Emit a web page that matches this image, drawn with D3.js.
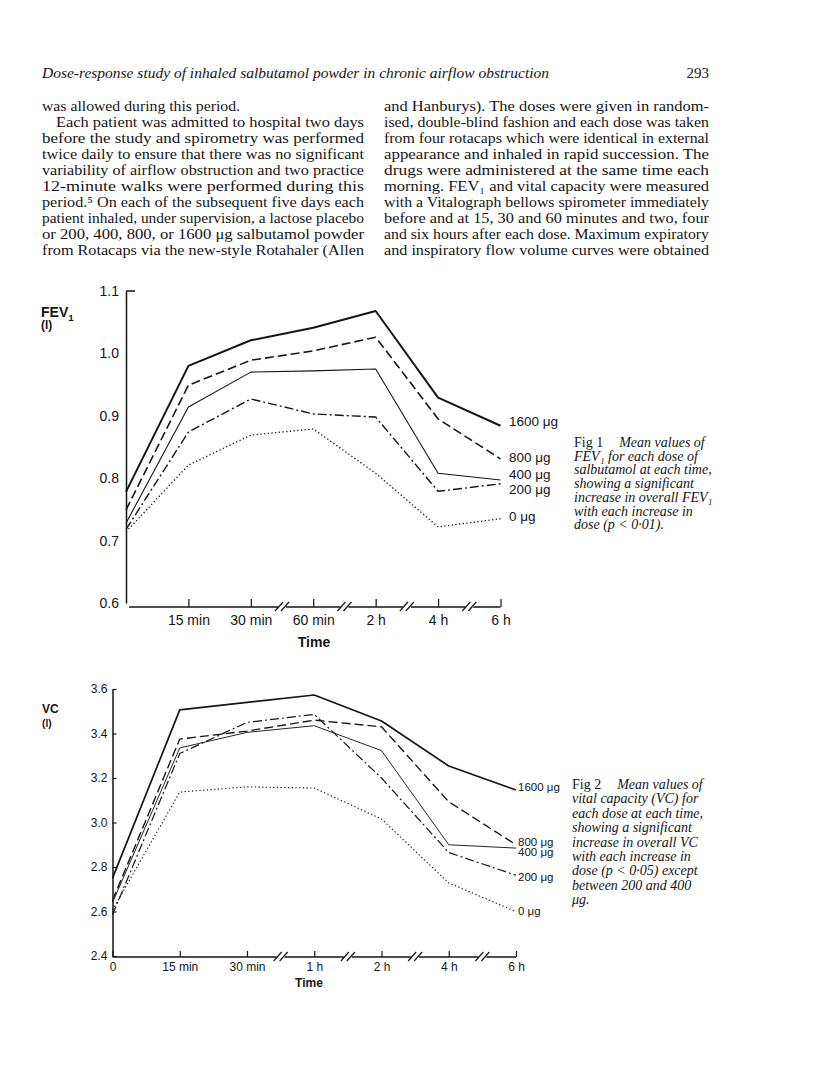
<!DOCTYPE html>
<html><head><meta charset="utf-8">
<script src="https://cdn.jsdelivr.net/npm/d3@7"></script>
<style>
html,body{margin:0;padding:0;background:#fff;}
svg text{fill:#151515;}
</style>
</head><body>
<svg id="page" width="816" height="1084"></svg>
<script>
// ---------- DATA ----------
const headerTitle = "Dose-response study of inhaled salbutamol powder in chronic airflow obstruction";
const pageNumber = "293";
const leftColumn = [
  "was allowed during this period.",
  "Each patient was admitted to hospital two days",
  "before the study and spirometry was performed",
  "twice daily to ensure that there was no significant",
  "variability of airflow obstruction and two practice",
  "12-minute walks were performed during this",
  "period.⁵ On each of the subsequent five days each",
  "patient inhaled, under supervision, a lactose placebo",
  "or 200, 400, 800, or 1600 μg salbutamol powder",
  "from Rotacaps via the new-style Rotahaler (Allen"
];
const rightColumn = [
  "and Hanburys). The doses were given in random-",
  "ised, double-blind fashion and each dose was taken",
  "from four rotacaps which were identical in external",
  "appearance and inhaled in rapid succession. The",
  "drugs were administered at the same time each",
  "morning. FEV₁ and vital capacity were measured",
  "with a Vitalograph bellows spirometer immediately",
  "before and at 15, 30 and 60 minutes and two, four",
  "and six hours after each dose. Maximum expiratory",
  "and inspiratory flow volume curves were obtained"
];

const doseLabels = ["1600 μg", "800 μg", "400 μg", "200 μg", "0 μg"];
const timeLabels1 = ["0", "15 min", "30 min", "60 min", "2 h", "4 h", "6 h"];
const timeLabels2 = ["0", "15 min", "30 min", "1 h", "2 h", "4 h", "6 h"];
const yTicks1 = [0.6, 0.7, 0.8, 0.9, 1.0, 1.1];
const yTicks2 = [2.4, 2.6, 2.8, 3.0, 3.2, 3.4, 3.6];

// FEV1 (l) at each time
const fev1600 = [0.778, 0.980, 1.021, 1.041, 1.068, 0.929, 0.884];
const fev800  = [0.749, 0.949, 0.989, 1.004, 1.026, 0.895, 0.831];
const fev400  = [0.728, 0.914, 0.970, 0.972, 0.975, 0.808, 0.797];
const fev200  = [0.718, 0.874, 0.927, 0.903, 0.898, 0.779, 0.791];
const fev0    = [0.714, 0.821, 0.869, 0.879, 0.808, 0.722, 0.735];

// VC (l) at each time
const vc1600 = [2.75, 3.506, 3.540, 3.573, 3.456, 3.254, 3.146];
const vc800  = [2.65, 3.375, 3.411, 3.460, 3.430, 3.093, 2.900];
const vc400  = [2.64, 3.335, 3.405, 3.435, 3.323, 2.900, 2.885];
const vc200  = [2.585, 3.310, 3.450, 3.486, 3.200, 2.865, 2.763];
const vc0    = [2.607, 3.137, 3.160, 3.155, 3.016, 2.728, 2.600];

const caption1 = [
  "FEV₁ for each dose of",
  "salbutamol at each time,",
  "showing a significant",
  "increase in overall FEV₁",
  "with each increase in",
  "dose (p < 0·01)."
];
const caption2 = [
  "vital capacity (VC) for",
  "each dose at each time,",
  "showing a significant",
  "increase in overall VC",
  "with each increase in",
  "dose (p < 0·05) except",
  "between 200 and 400",
  "μg."
];

// ---------- STYLES ----------
const lineStyles = [
  {w: 2.0, dash: null},
  {w: 1.6, dash: "9,4"},
  {w: 1.1, dash: null},
  {w: 1.4, dash: "9,3,2,3"},
  {w: 1.3, dash: "1.3,2.4"}
];
const serif = "'Liberation Serif','Times New Roman',serif";
const sans = "'Liberation Sans',Arial,Helvetica,sans-serif";

const svg = d3.select("#page");

// ---------- HEADER & BODY TEXT ----------
svg.append("text").attr("x", 42).attr("y", 78)
  .attr("font-family", serif).attr("font-style", "italic").attr("font-size", 15)
  .attr("textLength", 507).attr("lengthAdjust", "spacingAndGlyphs").text(headerTitle);
svg.append("text").attr("x", 709).attr("y", 78).attr("text-anchor", "end")
  .attr("font-family", serif).attr("font-size", 15).text(pageNumber);

function column(lines, x0, width, isLeft) {
  lines.forEach((t, i) => {
    const indent = (isLeft && i === 1) ? 14 : 0;
    const el = svg.append("text").attr("x", x0 + indent).attr("y", 111 + 16 * i)
      .attr("font-family", serif).attr("font-size", 14.5).text(t);
    const len = (isLeft && i === 0) ? 198 : width - indent;
    el.attr("textLength", len).attr("lengthAdjust", "spacingAndGlyphs");
  });
}
column(leftColumn, 42, 322, true);
column(rightColumn, 384, 325, false);

// ---------- CHART HELPER ----------
function drawChart(cfg) {
  const g = svg.append("g");
  const x = d3.scaleLinear().domain([0, 6]).range([cfg.x0, cfg.x1]);
  const y = d3.scaleLinear().domain(cfg.yDomain).range([cfg.yBottom, cfg.yTop]);

  // y axis
  const yAx = d3.axisLeft(y).tickValues(cfg.yTicks)
    .tickSizeInner(cfg.yTickIn).tickSizeOuter(0).tickPadding(cfg.yPad)
    .tickFormat(d3.format(".1f"));
  const ya = g.append("g").attr("transform", `translate(${cfg.x0},0)`).call(yAx);
  ya.select(".domain").attr("stroke", "#151515").attr("stroke-width", 1.5);
  ya.selectAll(".tick line").attr("stroke", "#151515").attr("stroke-width", 1.2);
  ya.selectAll("text").attr("font-family", sans).attr("font-size", cfg.fs).attr("fill", "#151515");
  if (cfg.topCap) {
    g.append("line").attr("x1", cfg.x0).attr("x2", cfg.x0 + 9)
      .attr("y1", y(cfg.yDomain[1])).attr("y2", y(cfg.yDomain[1]))
      .attr("stroke", "#151515").attr("stroke-width", 1.5);
  }

  // x axis
  const xAx = d3.axisBottom(x).tickValues(cfg.xTickVals)
    .tickSizeInner(-cfg.xTickLen).tickSizeOuter(0).tickPadding(cfg.xPad)
    .tickFormat(i => cfg.timeLabels[i]);
  const xa = g.append("g").attr("transform", `translate(0,${cfg.base})`).call(xAx);
  xa.select(".domain").remove();
  xa.selectAll(".tick line").attr("stroke", "#151515").attr("stroke-width", 1.2);
  xa.selectAll("text").attr("font-family", sans).attr("font-size", cfg.fs).attr("fill", "#151515");

  // segmented baseline with breaks
  const breaks = [2.5, 3.5, 4.5, 5.5];
  let start = cfg.baseStart;
  breaks.forEach(b => {
    const bx = x(b);
    g.append("line").attr("x1", start).attr("x2", bx - 4).attr("y1", cfg.base).attr("y2", cfg.base)
      .attr("stroke", "#151515").attr("stroke-width", 1.5);
    [-4, 2].forEach(o => {
      g.append("line").attr("x1", bx + o - 3).attr("y1", cfg.base + 4)
        .attr("x2", bx + o + 5).attr("y2", cfg.base - 5)
        .attr("stroke", "#151515").attr("stroke-width", 1.2);
    });
    start = bx + 4;
  });
  g.append("line").attr("x1", start).attr("x2", x(6)).attr("y1", cfg.base).attr("y2", cfg.base)
    .attr("stroke", "#151515").attr("stroke-width", 1.5);

  // x title
  g.append("text").attr("x", cfg.timeX).attr("y", cfg.timeY).attr("text-anchor", "middle")
    .attr("font-family", sans).attr("font-weight", "bold").attr("font-size", cfg.fs)
    .text("Time");

  // y title
  const yt = g.append("text").attr("x", cfg.ytX).attr("y", cfg.ytY)
    .attr("font-family", sans).attr("font-weight", "bold").attr("font-size", cfg.ytFs);
  yt.append("tspan").text(cfg.yTitle);
  if (cfg.ySub) yt.append("tspan").attr("dy", 4).attr("font-size", cfg.ytFs * 0.7).text(cfg.ySub);
  g.append("text").attr("x", cfg.ytX).attr("y", cfg.ytY + cfg.unitGap)
    .attr("font-family", sans).attr("font-weight", "bold").attr("font-size", cfg.ytFs * 0.85).text("(l)");

  // lines
  const line = d3.line().x((d, i) => x(i)).y(d => y(d));
  cfg.series.forEach((s, k) => {
    const st = cfg.styles[k];
    g.append("path").datum(s).attr("d", line)
      .attr("fill", "none").attr("stroke", "#151515")
      .attr("stroke-width", st.w).attr("stroke-dasharray", st.dash)
      .attr("stroke-linejoin", "round");
    g.append("text").attr("x", cfg.labelX).attr("y", y(s[6]) + cfg.labelDy[k])
      .attr("dominant-baseline", "middle")
      .attr("font-family", sans).attr("font-size", cfg.labelFs).text(doseLabels[k]);
  });

  // caption
  const cap = g.append("g").attr("font-family", serif).attr("font-size", cfg.capFs);
  const first = cap.append("text").attr("x", cfg.capX).attr("y", cfg.capY);
  first.append("tspan").text(cfg.figName);
  first.append("tspan").attr("dx", 16).attr("font-style", "italic").text("Mean values of");
  cfg.caption.forEach((t, i) => {
    cap.append("text").attr("x", cfg.capX).attr("y", cfg.capY + cfg.capLh * (i + 1))
      .attr("font-style", "italic").text(t);
  });
}

drawChart({
  x0: 126, x1: 500.5, yTop: 291, yBottom: 603, yDomain: [0.6, 1.1],
  yTicks: yTicks1, yTickIn: 0, yPad: 7, topCap: true,
  base: 607, baseStart: 129, xTickVals: [1, 2, 3, 4, 5, 6], xTickLen: 8, xPad: 8,
  timeLabels: timeLabels1, fs: 14,
  timeX: 314, timeY: 647,
  ytX: 41, ytY: 317, ytFs: 14, yTitle: "FEV", ySub: "1", unitGap: 12,
  series: [fev1600, fev800, fev400, fev200, fev0], styles: lineStyles,
  labelX: 509, labelDy: [-3, 0, -5, 7, -1], labelFs: 13.5,
  figName: "Fig 1", caption: caption1, capX: 574, capY: 447, capLh: 13.7, capFs: 14
});

drawChart({
  x0: 112.5, x1: 516, yTop: 689, yBottom: 956, yDomain: [2.4, 3.6],
  yTicks: yTicks2, yTickIn: -4, yPad: 5, topCap: false,
  base: 957, baseStart: 112.5, xTickVals: [0, 1, 2, 3, 4, 5, 6], xTickLen: 6, xPad: 5,
  timeLabels: timeLabels2, fs: 12,
  timeX: 309, timeY: 987,
  ytX: 42, ytY: 713, ytFs: 12, yTitle: "VC", ySub: null, unitGap: 14,
  series: [vc1600, vc800, vc400, vc200, vc0],
  styles: lineStyles.map(s => ({w: s.w * 0.85, dash: s.dash})),
  labelX: 518, labelDy: [-2, -2, 5, 3, 0], labelFs: 11.5,
  figName: "Fig 2", caption: caption2, capX: 572, capY: 789, capLh: 14.4, capFs: 14
});
</script>
</body></html>
